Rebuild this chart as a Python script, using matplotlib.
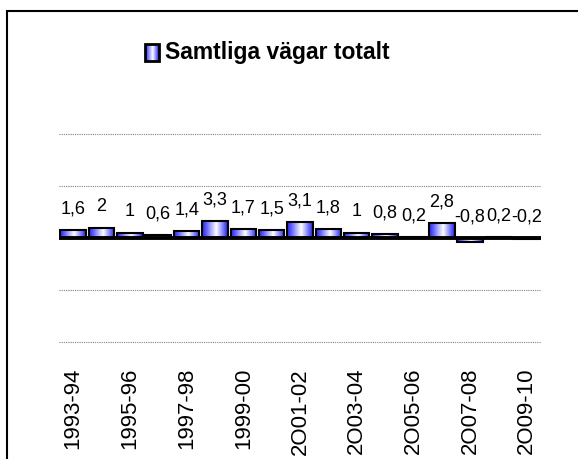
import numpy as np
import matplotlib
matplotlib.use("Agg")
from matplotlib import pyplot as plt
from matplotlib.colors import LinearSegmentedColormap
from matplotlib.patches import Rectangle

plt.rcParams['font.family'] = ['Liberation Sans', 'DejaVu Sans']

seasons = ['1993-94', '1994-95', '1995-96', '1996-97', '1997-98', '1998-99',
           '1999-00', '2000-01', '2O01-02', '2002-03', '2O03-04', '2004-05',
           '2O05-06', '2006-07', '2O07-08', '2008-09', '2O09-10']
values = [1.6, 2, 1, 0.6, 1.4, 3.3, 1.7, 1.5, 3.1, 1.8, 1, 0.8, 0.2, 2.8,
          -0.8, 0.2, -0.2]
title = 'Samtliga vägar totalt'

grad = LinearSegmentedColormap.from_list(
    'bar', [(0.0, '#2828e8'), (0.15, '#5a5aff'), (0.55, '#ffffff'),
            (0.85, '#6a6aff'), (1.0, '#2020d8')])
strip = np.linspace(0, 1, 64).reshape(1, -1)

fig = plt.figure(figsize=(5.78, 4.6), dpi=100)
ax = fig.add_axes([59 / 578, 1 - 343 / 460, 482 / 578, 208 / 460])

x = np.arange(len(values))
bars = ax.bar(x, values, width=0.9, facecolor='none', edgecolor='black',
              linewidth=1.5, zorder=3)
for b in bars:
    x0, y0 = b.get_x(), b.get_y()
    w, h = b.get_width(), b.get_height()
    im = ax.imshow(strip, cmap=grad, aspect='auto', zorder=2,
                   extent=[x0, x0 + w, min(y0, y0 + h), max(y0, y0 + h)])
    im.set_clip_path(b)

for xi, v in zip(x, values):
    ax.text(xi, max(v, 0) + 2.6, f'{v:g}'.replace('.', ','), ha='center',
            va='bottom', fontsize=13)

ax.set_xlim(-0.5, len(values) - 0.5)
ax.set_ylim(-20, 20)
for gy in [-20, -10, 10, 20]:
    ax.axhline(gy, color='#808080', linestyle=(0, (1, 1)), linewidth=0.8,
               clip_on=False, zorder=1)
ax.axhline(0, color='black', linewidth=2.8, zorder=4)
ax.set_yticks([])
ax.set_xticks(x[::2])
ax.set_xticklabels(seasons[::2], rotation=90, fontsize=16)
ax.tick_params(axis='x', length=0, pad=18)
for s in ax.spines.values():
    s.set_visible(False)

# legend key and title
kax = fig.add_axes([145 / 578, 1 - 62 / 460, 14 / 578, 17 / 460])
kax.imshow(strip, cmap=grad, aspect='auto', extent=[0, 1, 0, 1])
kax.add_patch(Rectangle((0, 0), 1, 1, fill=False, edgecolor='black',
                        linewidth=2, transform=kax.transAxes, clip_on=False))
kax.set_axis_off()
fig.text(165 / 578, 1 - 53 / 460, title, fontsize=16.5, fontweight='bold',
         ha='left', va='center')

# outer frame
fig.add_artist(Rectangle((7 / 578, -0.1), 1.0, 1 - 12 / 460 + 0.1,
                         transform=fig.transFigure, fill=False,
                         edgecolor='black', linewidth=1.5))

fig.savefig('out.png', dpi=100)
